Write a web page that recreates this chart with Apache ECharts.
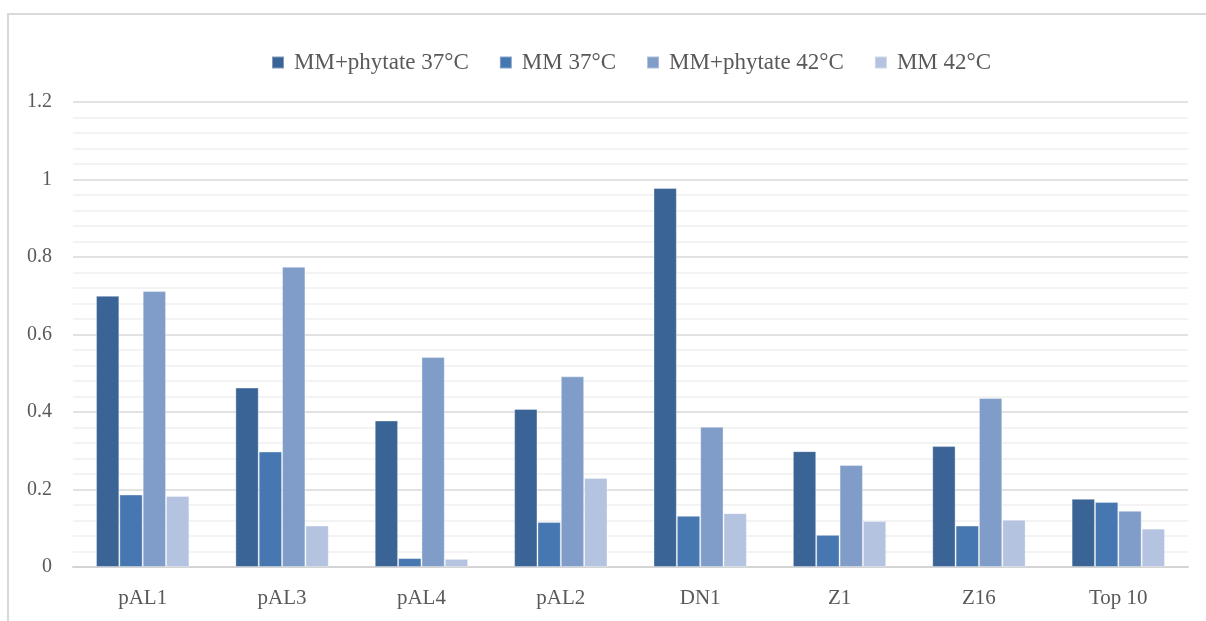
<!DOCTYPE html>
<html>
<head>
<meta charset="utf-8">
<script src="https://cdn.jsdelivr.net/npm/echarts@6/dist/echarts.min.js"></script>
<style>
  html, body { margin: 0; padding: 0; background: #fff; }
  #frame {
    position: absolute; left: 7px; top: 13px;
    width: 1220px; height: 640px;
    border: 2px solid #d9d9d9; box-sizing: border-box;
  }
  #chart { position: absolute; left: 0; top: 0; width: 1206px; height: 621px; }
</style>
</head>
<body>
<div id="frame"></div>
<div id="chart"></div>
<script>
// strains on the x axis
var categories = ['pAL1', 'pAL3', 'pAL4', 'pAL2', 'DN1', 'Z1', 'Z16', 'Top 10'];
var seriesNames = ['MM+phytate 37°C', 'MM 37°C', 'MM+phytate 42°C', 'MM 42°C'];

var phytate37 = [0.700, 0.463, 0.378, 0.408, 0.978, 0.299, 0.312, 0.176];
var mm37      = [0.187, 0.298, 0.023, 0.116, 0.132, 0.083, 0.107, 0.168];
var phytate42 = [0.712, 0.775, 0.542, 0.492, 0.362, 0.263, 0.436, 0.145];
var mm42      = [0.183, 0.107, 0.021, 0.230, 0.139, 0.119, 0.122, 0.099];

var colors = ['#3a6496', '#4677b0', '#7f9dc8', '#b4c3df'];
var fontFamily = '"Liberation Serif", "DejaVu Serif", serif';

var chart = echarts.init(document.getElementById('chart'));

function barSeries(name, data, color) {
  return {
    name: name,
    type: 'bar',
    data: data,
    barGap: '0%',
    barCategoryGap: '33%',
    itemStyle: {
      color: color,
      borderColor: 'rgba(255,255,255,0.35)',
      borderWidth: 1
    }
  };
}

var option = {
  animation: false,
  backgroundColor: 'transparent',
  color: colors,
  textStyle: { fontFamily: fontFamily },
  legend: {
    top: 46,
    left: 266,
    itemWidth: 12,
    itemHeight: 12,
    itemGap: 30,
    icon: 'rect',
    textStyle: { fontSize: 23, color: '#595959', fontFamily: fontFamily, padding: [0, 0, 0, 5] },
    data: seriesNames
  },
  grid: {
    left: 73,
    right: 18,
    top: 102,
    bottom: 54
  },
  xAxis: {
    type: 'category',
    data: categories,
    axisTick: { show: false },
    axisLine: { lineStyle: { color: '#d4d4d4', width: 2 } },
    axisLabel: { color: '#595959', fontSize: 21, margin: 21, fontFamily: fontFamily }
  },
  yAxis: {
    type: 'value',
    min: 0,
    max: 1.2,
    interval: 0.2,
    axisLine: { show: false },
    axisTick: { show: false },
    axisLabel: { color: '#595959', fontSize: 20, margin: 21, fontFamily: fontFamily },
    splitLine: { lineStyle: { color: '#d9d9d9', width: 1.5 } },
    minorTick: { show: false, splitNumber: 5 },
    minorSplitLine: { show: true, lineStyle: { color: '#f0f0f0', width: 1.5 } }
  },
  series: [
    barSeries(seriesNames[0], phytate37, colors[0]),
    barSeries(seriesNames[1], mm37, colors[1]),
    barSeries(seriesNames[2], phytate42, colors[2]),
    barSeries(seriesNames[3], mm42, colors[3])
  ]
};

chart.setOption(option);
</script>
</body>
</html>
